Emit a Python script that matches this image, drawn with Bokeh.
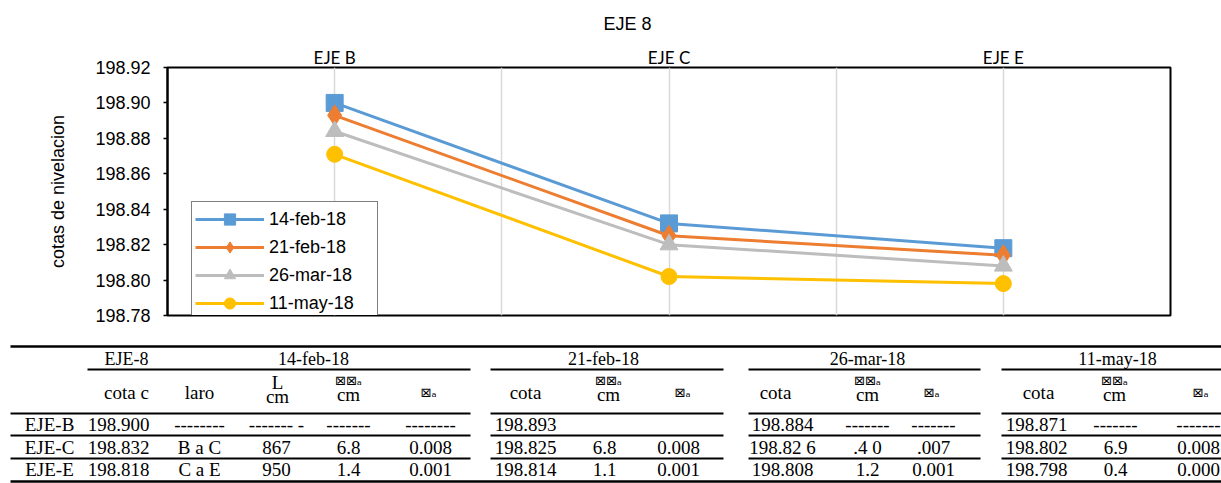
from bokeh.plotting import figure
from bokeh.models import (ColumnDataSource, FactorRange, Range1d, FixedTicker,
                          NumeralTickFormatter, Legend, LegendItem)
from bokeh.embed import file_html
from bokeh.resources import INLINE
from bokeh.core.properties import value

# ---------------- data ----------------
ejes = ["EJE B", "EJE C", "EJE E"]
spacer_factors = [" ", "  "]
fechas = ["14-feb-18", "21-feb-18", "26-mar-18", "11-may-18"]
cota_14feb = [198.900, 198.832, 198.818]
cota_21feb = [198.893, 198.825, 198.814]
cota_26mar = [198.884, 198.820, 198.808]
cota_11may = [198.871, 198.802, 198.798]
y_ticks = [198.78, 198.80, 198.82, 198.84, 198.86, 198.88, 198.90, 198.92]

# table texts
tabla_titulo = "EJE-8"
filas = ["EJE-B", "EJE-C", "EJE-E"]
t_cota_14feb = ["198.900", "198.832", "198.818"]
t_laro = ["--------", "B a C", "C a E"]
t_L_cm = ["------- -", "867", "950"]
t_dd_14feb = ["-------", "6.8", "1.4"]
t_d_14feb = ["--------", "0.008", "0.001"]
t_cota_21feb = ["198.893", "198.825", "198.814"]
t_dd_21feb = ["", "6.8", "1.1"]
t_d_21feb = ["", "0.008", "0.001"]
t_cota_26mar = ["198.884", "198.82 6", "198.808"]
t_dd_26mar = ["-------", ".4 0", "1.2"]
t_d_26mar = ["-------", ".007", "0.001"]
t_cota_11may = ["198.871", "198.802", "198.798"]
t_dd_11may = ["-------", "6.9", "0.4"]
t_d_11may = ["-------", "0.008", "0.000"]
sym_dd = "\u22a0\u22a0\u2090"
sym_d = "\u22a0\u2090"

# ---------------- chart ----------------
factors = [ejes[0], spacer_factors[0], ejes[1], spacer_factors[1], ejes[2]]
p = figure(width=1221, height=325,
           x_range=FactorRange(factors=factors, range_padding=0.2),
           y_range=Range1d(y_ticks[0], y_ticks[-1]),
           x_axis_location="above", output_backend="svg", toolbar_location=None,
           min_border_left=167, min_border_right=51, min_border_top=67,
           min_border_bottom=10, title="EJE 8")
p.background_fill_color = "white"
p.border_fill_color = "white"
p.outline_line_color = "black"
p.outline_line_width = 2
p.outline_line_alpha = 1

p.title.text_font = "Liberation Sans"
p.title.text_font_size = "18px"
p.title.text_font_style = "normal"
p.title.text_color = "black"
p.title.align = "left"
p.title.offset = 436
p.title.standoff = 20

xa = p.xaxis[0]
xa.axis_line_color = None
xa.major_tick_line_color = None
xa.minor_tick_line_color = None
xa.major_label_text_font = "Lato"
xa.major_label_text_font_size = "17px"
xa.major_label_text_color = "black"
xa.major_label_standoff = -6

ya = p.yaxis[0]
ya.ticker = FixedTicker(ticks=y_ticks)
ya.formatter = NumeralTickFormatter(format="0.00")
ya.axis_line_color = "black"
ya.axis_line_width = 2
ya.major_tick_line_color = "black"
ya.major_tick_line_width = 1.5
ya.major_tick_out = 4
ya.major_tick_in = 0
ya.minor_tick_line_color = None
ya.major_label_text_font = "Liberation Sans"
ya.major_label_text_font_size = "18px"
ya.major_label_text_color = "black"
ya.major_label_standoff = 13
ya.axis_label = "cotas de nivelacion"
ya.axis_label_text_font = "Liberation Sans"
ya.axis_label_text_font_size = "18px"
ya.axis_label_text_font_style = "normal"
ya.axis_label_text_color = "black"
ya.axis_label_standoff = 24

p.xgrid.grid_line_color = "#D9D9D9"
p.xgrid.grid_line_width = 1.5
p.ygrid.visible = False

series = [
    (fechas[0], cota_14feb, "#5B9BD5", "square", 17),
    (fechas[1], cota_21feb, "#ED7D31", "diamond", 21),
    (fechas[2], cota_26mar, "#BDBDBD", "triangle", 18),
    (fechas[3], cota_11may, "#FFC000", "circle", 16),
]
items = []
for label, vals, color, marker, size in series:
    src = ColumnDataSource(dict(x=ejes, y=vals))
    lr = p.line("x", "y", source=src, line_color=color, line_width=3)
    sr = p.scatter("x", "y", source=src, marker=marker, size=size,
                   fill_color=color, line_color=color)
    items.append(LegendItem(label=label, renderers=[lr, sr]))

legend = Legend(items=items, location=(24, -6))
legend.border_line_color = "black"
legend.border_line_width = 1.5
legend.background_fill_color = "white"
legend.background_fill_alpha = 1
legend.label_text_font = "Liberation Sans"
legend.label_text_font_size = "18px"
legend.label_text_color = "black"
legend.glyph_width = 69
legend.glyph_height = 28
legend.label_height = 28
legend.spacing = 0
legend.padding = 3
legend.margin = 0
legend.label_standoff = 5
legend.label_width = 105
p.add_layout(legend)

# ---------------- table ----------------
t = figure(width=1221, height=158, x_range=Range1d(0, 1221), y_range=Range1d(483, 325),
           x_axis_location=None, y_axis_location=None, output_backend="svg",
           toolbar_location=None, min_border=0)
t.outline_line_color = None
t.background_fill_color = "white"
t.border_fill_color = "white"
t.grid.visible = False

serif = value("Liberation Serif")
row_y = [424, 447, 469]


def add_text(xs, ys, texts, font=serif, size="19px"):
    src = ColumnDataSource(dict(x=xs, y=ys, text=texts))
    t.text("x", "y", text="text", source=src, text_font=font, text_font_size=size,
           text_align="center", text_baseline="middle", text_color="black")


# group headers
add_text([126, 313, 603, 867, 1117], [358] * 5, [tabla_titulo] + fechas, size="18px")
# second header row
add_text([126, 199, 525, 775, 1038], [392] * 5, ["cota c", "laro", "cota", "cota", "cota"])
add_text([277], [382], ["L"])
add_text([277, 348, 608, 867, 1114], [396, 394, 394, 394, 394], ["cm"] * 5)
add_text([348, 608, 867, 1114], [380] * 4, [sym_dd] * 4, font=value("DejaVu Sans"), size="13px")
add_text([428, 682, 931, 1200], [392] * 4, [sym_d] * 4, font=value("DejaVu Sans"), size="13px")

# body
body_cols = [
    (49, filas), (118, t_cota_14feb), (199, t_laro), (276, t_L_cm),
    (348, t_dd_14feb), (430, t_d_14feb),
    (525, t_cota_21feb), (604, t_dd_21feb), (678, t_d_21feb),
    (782, t_cota_26mar), (867, t_dd_26mar), (933, t_d_26mar),
    (1036, t_cota_11may), (1115, t_dd_11may), (1198, t_d_11may),
]
for cx, vals in body_cols:
    add_text([cx] * len(vals), row_y, vals)

# rules
seg_x0, seg_x1, seg_y = [], [], []
for yy, start in [(369, 87), (413, 10), (435, 10), (458, 10)]:
    seg_x0 += [start, 490, 748, 1001]
    seg_x1 += [470, 723, 980, 1221]
    seg_y += [yy] * 4
t.segment(x0=seg_x0, y0=seg_y, x1=seg_x1, y1=seg_y, line_color="black", line_width=1.8)
t.segment(x0=[10, 10], y0=[346, 481], x1=[1221, 1221], y1=[346, 481],
          line_color="black", line_width=2.5)

open("out.html", "w").write(file_html([p, t], INLINE))
